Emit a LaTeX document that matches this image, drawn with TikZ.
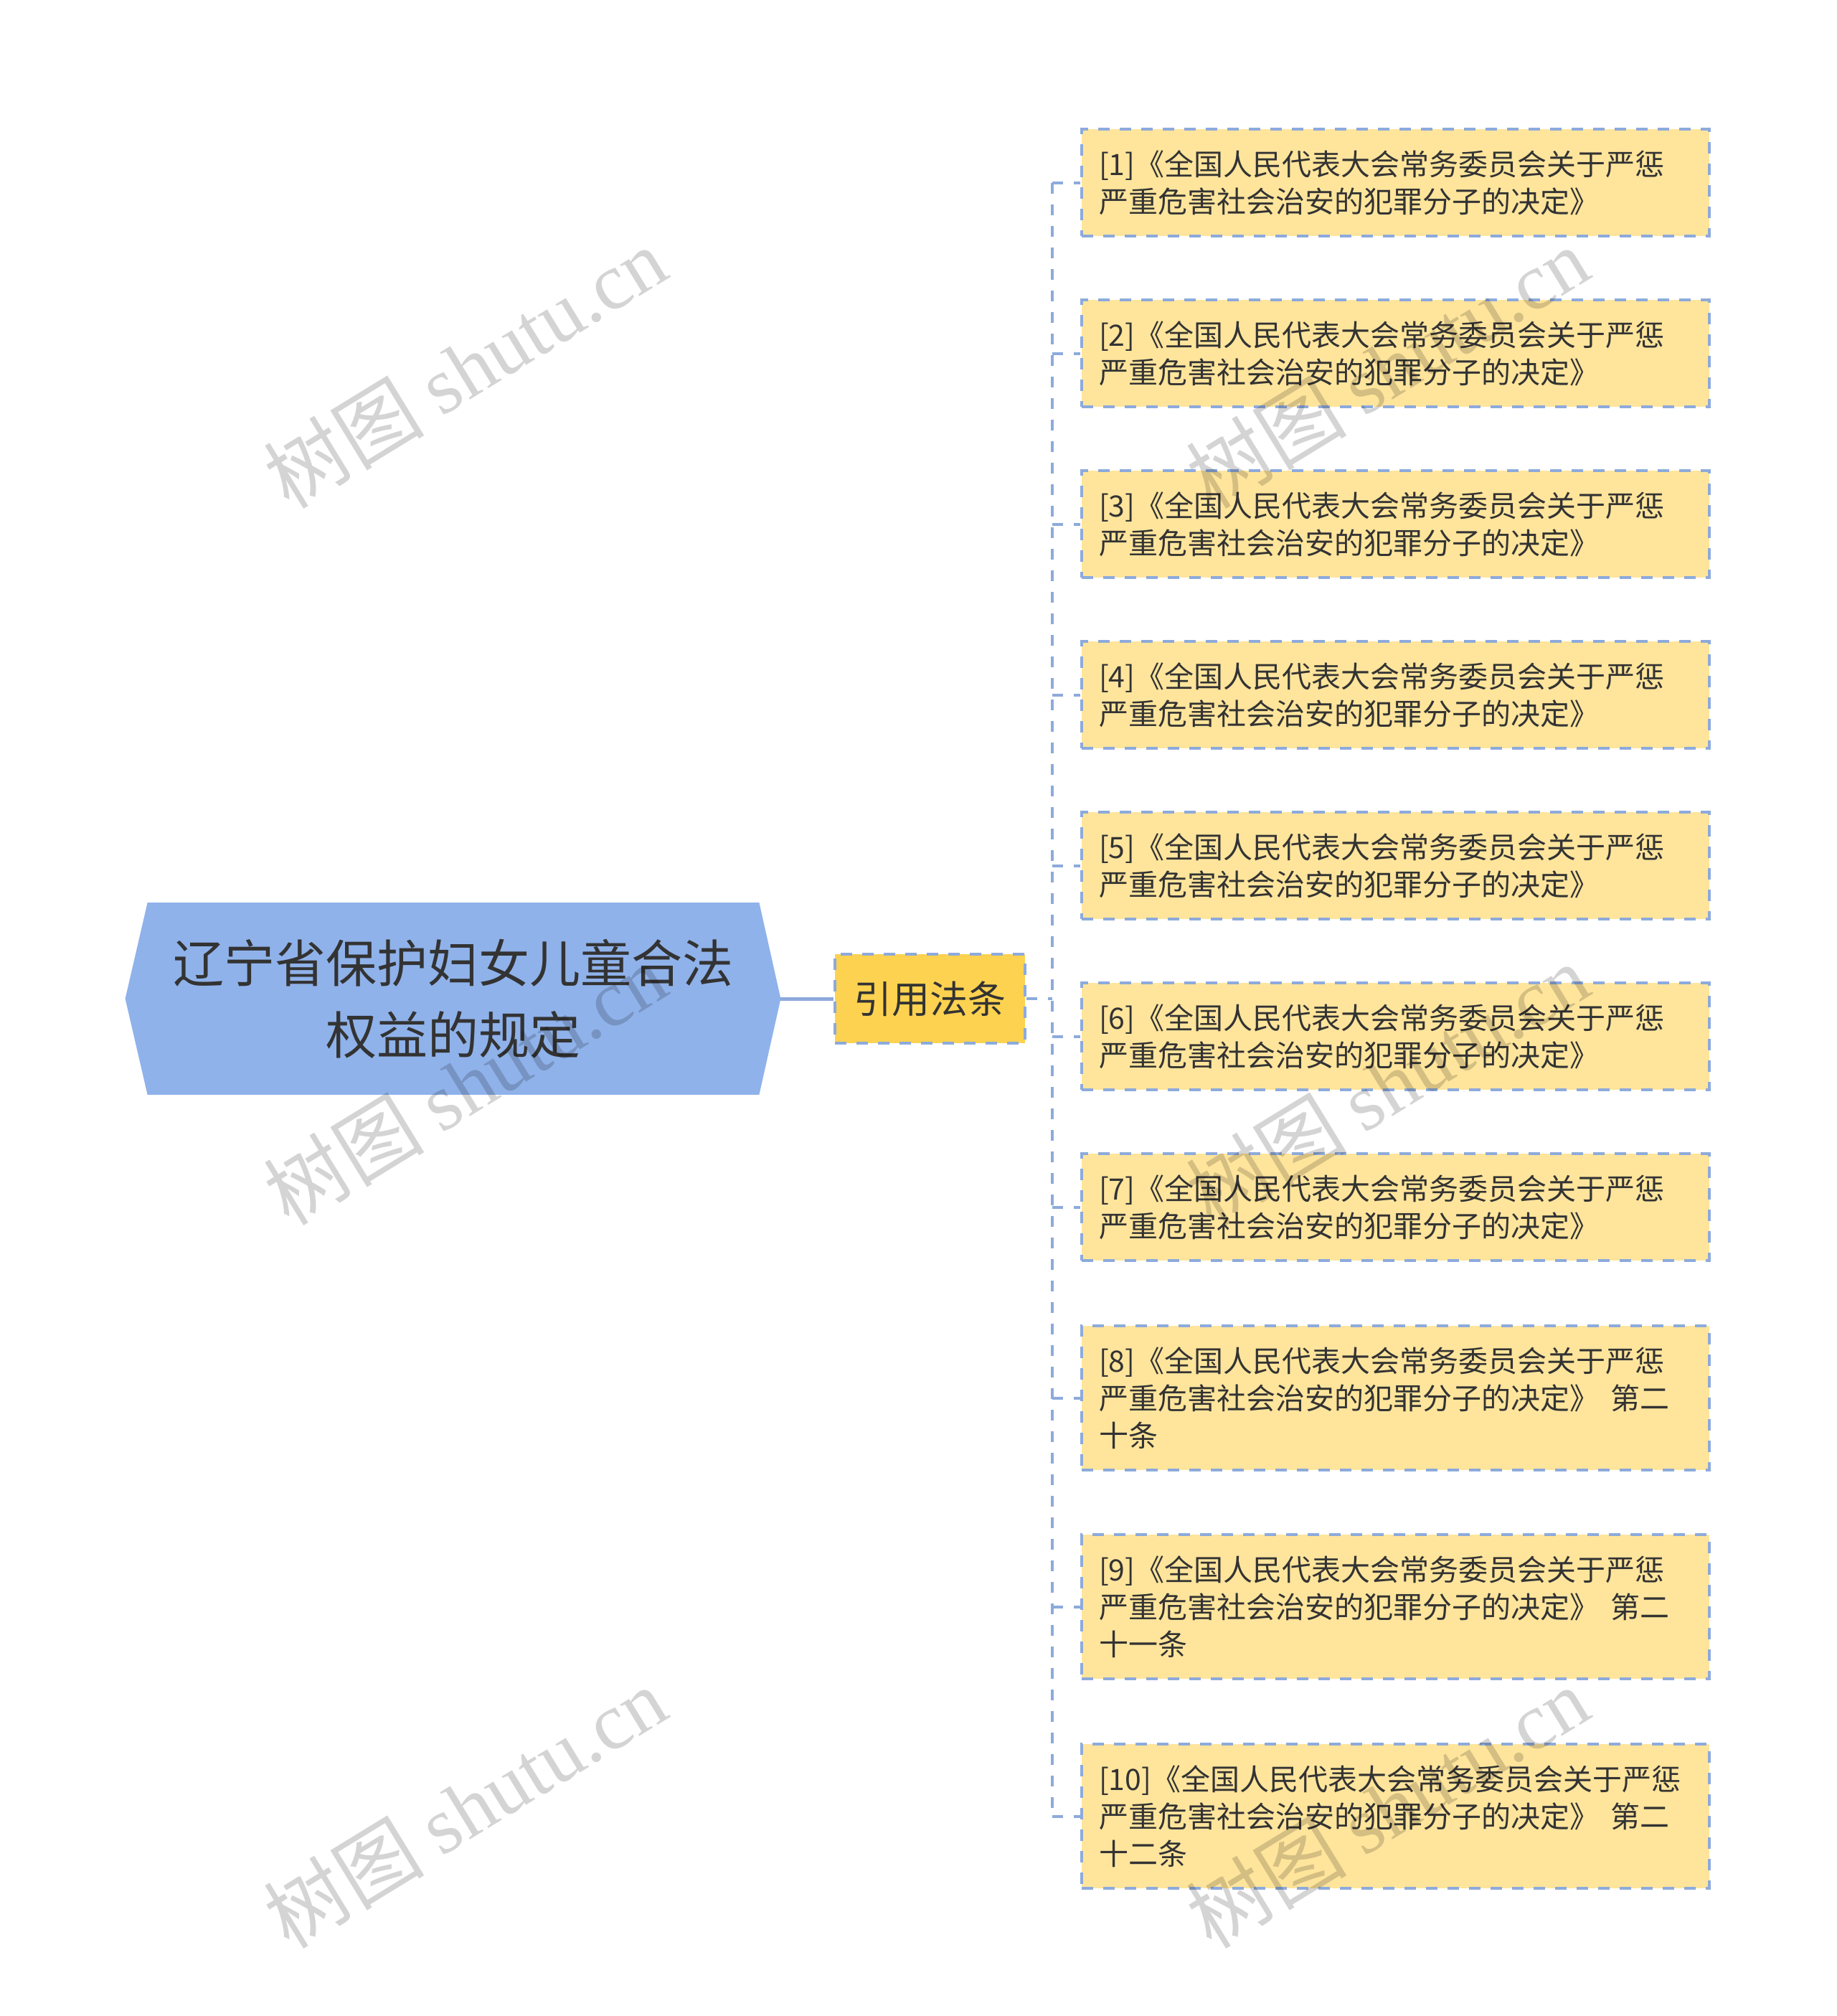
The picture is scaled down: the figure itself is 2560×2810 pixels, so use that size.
\documentclass[tikz,border=0pt]{standalone}
\usepackage{fontspec}
\setmainfont{Noto Sans CJK SC}
\newfontfamily\wmserif{Liberation Serif}
\usetikzlibrary{calc,backgrounds}
\definecolor{rootfill}{HTML}{8FB2EA}
\definecolor{citefill}{HTML}{FCD250}
\definecolor{leaffill}{HTML}{FFE59C}
\definecolor{linec}{HTML}{8DAADB}
\definecolor{txt}{HTML}{333333}
\begin{document}
\begin{tikzpicture}[x=0.5pt,y=-0.5pt,
  leafbox/.style={draw=linec, line width=2pt, dash pattern=on 8pt off 7pt,
    fill=leaffill, anchor=north west, text width=413.5pt, inner xsep=12pt,
    inner ysep=0pt, align=left, text=txt, minimum height=74.5pt,
    font=\fontsize{20.5pt}{26pt}\selectfont},
  tallbox/.style={leafbox, minimum height=100.5pt},
  citebox/.style={draw=linec, line width=2pt, dash pattern=on 8pt off 7pt,
    fill=citefill, minimum width=132.5pt, minimum height=62pt, inner sep=0pt,
    text=txt, font=\fontsize{26.5pt}{32pt}\selectfont},
  rootbox/.style={minimum width=456.5pt, minimum height=133.5pt, inner sep=0pt,
    align=center, text=txt, font=\fontsize{35.5pt}{50pt}\selectfont},
  dconn/.style={draw=linec, line width=2pt, dash pattern=on 7.5pt off 7.5pt},
  sconn/.style={draw=linec, line width=2.5pt},
  wmark/.style={rotate=31.5, text=black, text opacity=0.17, inner sep=0pt,
    font=\fontsize{56pt}{56pt}\selectfont}
]
\path[use as bounding box] (0,0) rectangle (2560,2810);

\node[rootbox] (root) at (631.5,1392) {辽宁省保护妇女儿童合法\\权益的规定};
\begin{pgfonlayer}{background}
\fill[white] (0,0) rectangle (2560,2810);
\fill[rootfill] (root.west) -- ($(root.north west)+(31,0)$) -- ($(root.north east)+(-30,0)$)
  -- (root.east) -- ($(root.south east)+(-30,0)$) -- ($(root.south west)+(31,0)$) -- cycle;
\end{pgfonlayer}

\node[citebox] (cite) at (1296.5,1392) {引用法条};

\node[leafbox] (c1) at (1506,178) {[1]《全国人民代表大会常务委员会关于严惩\\严重危害社会治安的犯罪分子的决定》};
\node[leafbox] (c2) at (1506,416) {[2]《全国人民代表大会常务委员会关于严惩\\严重危害社会治安的犯罪分子的决定》};
\node[leafbox] (c3) at (1506,654) {[3]《全国人民代表大会常务委员会关于严惩\\严重危害社会治安的犯罪分子的决定》};
\node[leafbox] (c4) at (1506,892) {[4]《全国人民代表大会常务委员会关于严惩\\严重危害社会治安的犯罪分子的决定》};
\node[leafbox] (c5) at (1506,1130) {[5]《全国人民代表大会常务委员会关于严惩\\严重危害社会治安的犯罪分子的决定》};
\node[leafbox] (c6) at (1506,1368) {[6]《全国人民代表大会常务委员会关于严惩\\严重危害社会治安的犯罪分子的决定》};
\node[leafbox] (c7) at (1506,1606) {[7]《全国人民代表大会常务委员会关于严惩\\严重危害社会治安的犯罪分子的决定》};
\node[tallbox] (c8) at (1506,1846) {[8]《全国人民代表大会常务委员会关于严惩\\严重危害社会治安的犯罪分子的决定》\hspace{0.4em}第二\\十条};
\node[tallbox] (c9) at (1506,2137) {[9]《全国人民代表大会常务委员会关于严惩\\严重危害社会治安的犯罪分子的决定》\hspace{0.4em}第二\\十一条};
\node[tallbox] (c10) at (1506,2429) {[10]《全国人民代表大会常务委员会关于严惩\\严重危害社会治安的犯罪分子的决定》\hspace{0.4em}第二\\十二条};

\coordinate (trunk) at (1467,1392);
\draw[sconn] (root.east) -- (cite.west);
\draw[dconn] (cite.east) -- (trunk);
\draw[dconn] (trunk |- c1.west) -- (trunk |- c10.west);
\foreach \i in {1,...,10} {
  \draw[dconn] (trunk |- c\i.west) -- (c\i.west);
}

\node[wmark] (w1) at (648,512) {树图 {\wmserif shutu.cn}};
\node[wmark] (w2) at (1934,512) {树图 {\wmserif shutu.cn}};
\node[wmark] (w3) at (648,1511) {树图 {\wmserif shutu.cn}};
\node[wmark] (w4) at (1934,1511) {树图 {\wmserif shutu.cn}};
\node[wmark] (w5) at (648,2519) {树图 {\wmserif shutu.cn}};
\node[wmark] (w6) at (1934,2519) {树图 {\wmserif shutu.cn}};
\end{tikzpicture}
\end{document}
